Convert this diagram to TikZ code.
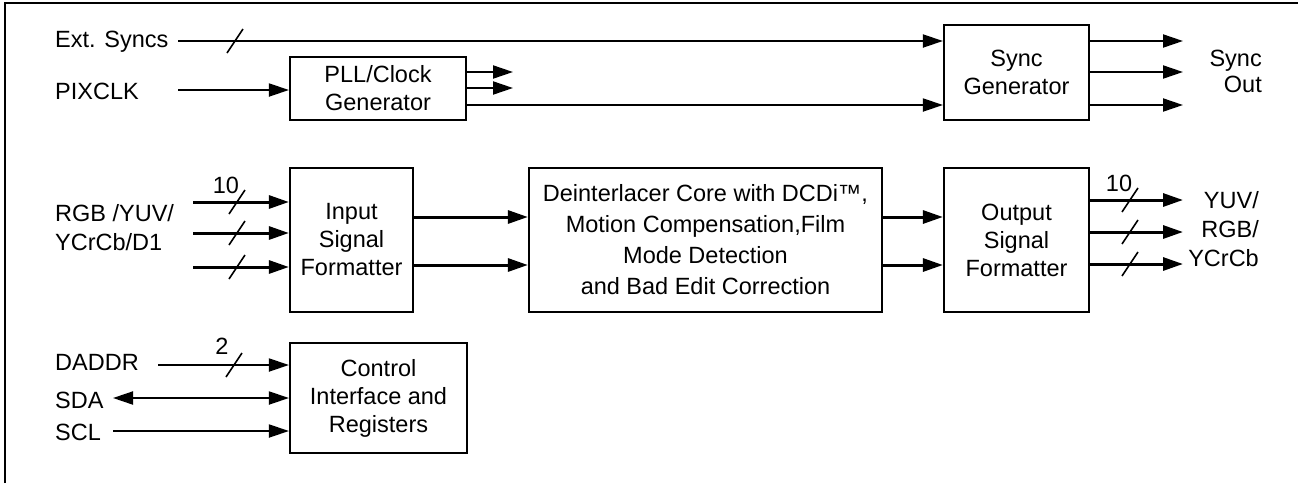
\documentclass[tikz,border=0pt]{standalone}
\usepackage{fontspec}
\setmainfont{Liberation Sans}
\usetikzlibrary{arrows.meta,calc}
\begin{document}
\begin{tikzpicture}[x=1pt,y=-1pt,
  font=\fontsize{23.5}{28}\selectfont,
  blk/.style={draw,line width=2.2pt,inner sep=0pt,align=center},
  conn/.style={line width=2pt,-{Triangle[length=20pt,width=13pt]}},
  bus/.style={line width=3pt,-{Triangle[length=20pt,width=13pt]}},
  twoway/.style={line width=2pt,{Triangle[length=20pt,width=13pt]}-{Triangle[length=20pt,width=13pt]}},
  plain/.style={line width=2pt},
  slashline/.style={line width=1.6pt},
  lbl/.style={inner sep=0pt}]
\useasboundingbox (0,0) rectangle (1298,483);
% frame (top and left only)
\draw[line width=1.5pt] (5,483) -- (5,3) -- (1298,3);

% boxes
\node[blk,minimum width=176pt,minimum height=63pt] (pll) at (378,88.5) {PLL/Clock\\Generator};
\node[blk,minimum width=145pt,minimum height=95pt] (sync) at (1016.5,72.5) {Sync\\Generator};
\node[blk,minimum width=123pt,minimum height=144pt] (isf) at (351.5,240) {Input\\Signal\\Formatter};
\node[blk,minimum width=353pt,minimum height=144pt,font=\fontsize{23.5}{31}\selectfont] (core) at (705.5,240) {Deinterlacer Core with DCDi™,\\Motion Compensation,Film\\Mode Detection\\and Bad Edit Correction};
\node[blk,minimum width=145pt,minimum height=144pt] (osf) at (1016.5,240) {Output\\Signal\\Formatter};
\node[blk,minimum width=177pt,minimum height=110pt] (ctl) at (378.5,398) {Control\\Interface and\\Registers};

% labels
\node[lbl,anchor=west] (ext) at (55,42) {Ext. Syncs};
\node[lbl,anchor=west] (pix) at (55,91) {PIXCLK};
\node[lbl,anchor=east,align=right,font=\fontsize{23.5}{26}\selectfont] (syncout) at (1262,71) {Sync\\Out};
\node[lbl,anchor=west,align=left,font=\fontsize{23.5}{29}\selectfont] (rgbin) at (55,228) {RGB /YUV/\\YCrCb/D1};
\node[lbl,anchor=east,align=right,font=\fontsize{23.5}{29}\selectfont] (yuvout) at (1259,229) {YUV/\\RGB/\\YCrCb};
\node[lbl,anchor=west] (daddr) at (55,362) {DADDR};
\node[lbl,anchor=west] (sda) at (55,400) {SDA};
\node[lbl,anchor=west] (scl) at (55,432) {SCL};

% coordinates for free ends
\coordinate (extS) at (178,41);
\coordinate (pixS) at (178,90);
\coordinate (so1) at (1183,41);
\coordinate (so2) at (1183,72);
\coordinate (so3) at (1183,105);
\coordinate (pa) at (513,72);
\coordinate (pb) at (513,88);
\coordinate (in1) at (193,202);
\coordinate (in2) at (193,233);
\coordinate (in3) at (193,267);
\coordinate (out1) at (1183,200);
\coordinate (out2) at (1183,232);
\coordinate (out3) at (1183,264);
\coordinate (daS) at (158,365);
\coordinate (sdaS) at (113,398);
\coordinate (sclS) at (113,431);

% top section
\draw[conn] (extS) -- (extS -| sync.west);
\draw[conn] (pixS) -- (pixS -| pll.west);
\draw[conn] (pa -| pll.east) -- (pa);
\draw[conn] (pb -| pll.east) -- (pb);
\draw[conn] (pll.east |- 0,105) -- (sync.west |- 0,105);
\draw[conn] (so1 -| sync.east) -- (so1);
\draw[conn] (so2 -| sync.east) -- (so2);
\draw[conn] (so3 -| sync.east) -- (so3);
\draw[slashline] (227,53) -- (243,29);

% middle section
\draw[bus] (in1) -- (in1 -| isf.west);
\draw[bus] (in2) -- (in2 -| isf.west);
\draw[bus] (in3) -- (in3 -| isf.west);
\foreach \y in {202,233,267} \draw[slashline] (229,\y+12) -- (245,\y-12);
\node[lbl] (n10a) at (226,185) {10};
\draw[bus] (isf.east |- 0,217) -- (core.west |- 0,217);
\draw[bus] (isf.east |- 0,265) -- (core.west |- 0,265);
\draw[bus] (core.east |- 0,217) -- (osf.west |- 0,217);
\draw[bus] (core.east |- 0,265) -- (osf.west |- 0,265);
\draw[bus] (out1 -| osf.east) -- (out1);
\draw[bus] (out2 -| osf.east) -- (out2);
\draw[bus] (out3 -| osf.east) -- (out3);
\foreach \y in {200,232,264} \draw[slashline] (1122,\y+12) -- (1138,\y-12);
\node[lbl] (n10b) at (1119,183) {10};

% bottom section
\draw[conn] (daS) -- (daS -| ctl.west);
\draw[slashline] (226,377) -- (242,353);
\node[lbl] (n2) at (222,346) {2};
\draw[twoway] (sdaS) -- (sdaS -| ctl.west);
\draw[conn] (sclS) -- (sclS -| ctl.west);
\end{tikzpicture}
\end{document}
